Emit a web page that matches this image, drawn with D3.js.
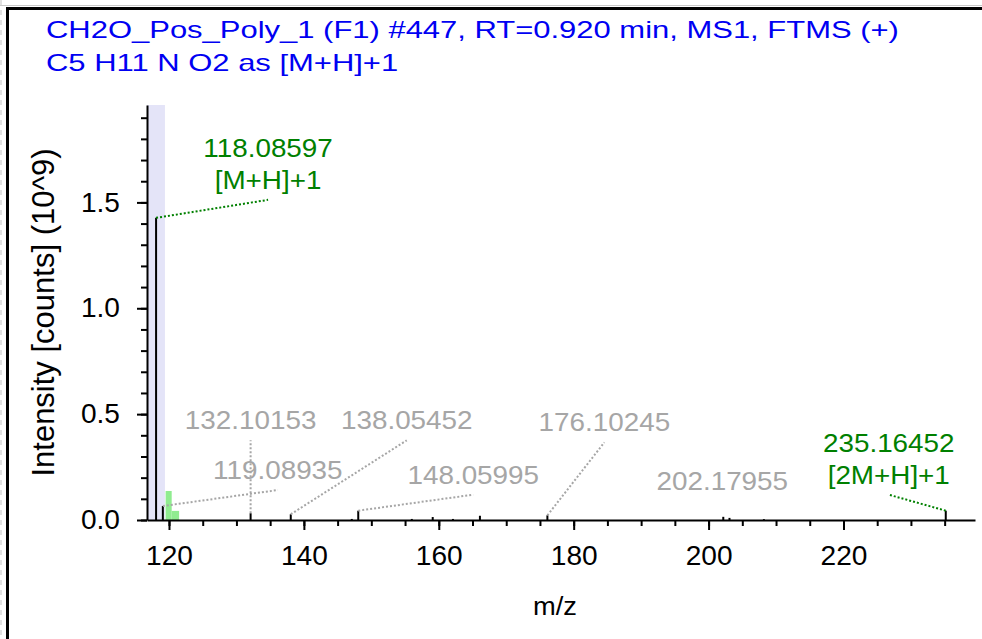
<!DOCTYPE html>
<html>
<head>
<meta charset="utf-8">
<script src="https://cdn.jsdelivr.net/npm/d3@7"></script>
<style>
  html, body { margin: 0; padding: 0; background: #fff; }
  svg { display: block; font-family: "Liberation Sans", Arial, sans-serif; }
</style>
</head>
<body>
<svg id="chart" width="982" height="639"></svg>
<script>
// Spectrum header
const titleLines = [
  "CH2O_Pos_Poly_1 (F1) #447, RT=0.920 min, MS1, FTMS (+)",
  "C5 H11 N O2 as [M+H]+1"
];

// Centroid peaks: m/z and intensity (10^9 counts)
const peakMz  = [118.08597, 119.08935, 132.10153, 138.05452, 147.10, 148.05995, 156.00, 159.10, 162.10, 166.10, 176.10245, 202.17955, 203.10, 208.20, 235.16452];
const peakInt = [1.427, 0.066, 0.032, 0.027, 0.005, 0.044, 0.005, 0.014, 0.005, 0.020, 0.022, 0.015, 0.010, 0.004, 0.044];

// Theoretical isotope pattern bars (m/z from, m/z to, intensity)
const isoFrom = [119.50, 120.40];
const isoTo   = [120.40, 121.50];
const isoInt  = [0.137, 0.043];

// Extraction window around the target ion
const windowMz = [116.74, 119.40];

// Annotated peaks
const annMz    = [118.08597, 119.08935, 132.10153, 138.05452, 148.05995, 176.10245, 202.17955, 235.16452];
const annText  = [
  ["118.08597", "[M+H]+1"],
  ["119.08935"],
  ["132.10153"],
  ["138.05452"],
  ["148.05995"],
  ["176.10245"],
  ["202.17955"],
  ["235.16452", "[2M+H]+1"]
];
const annMatched = [true, false, false, false, false, false, false, true];

// Axis ticks
const xMajor = [120, 140, 160, 180, 200, 220];
const xMinor = d3.range(120, 240, 5);
const yMajor = [0.0, 0.5, 1.0, 1.5];
const yMinor = d3.range(0, 20).map(i => i / 10);

// Label placement relative to each peak top (pixels): leader end offset, draw leader?
const annLayout = [
  { dx: 112, dy: -18, leader: true },
  { dx: 115, dy: -16, leader: true },
  { dx: 0,   dy: -73, leader: true },
  { dx: 116, dy: -74, leader: true },
  { dx: 115, dy: -16, leader: true },
  { dx: 57,  dy: -73, leader: true },
  { dx: -1,  dy: -16, leader: false },
  { dx: -57, dy: -16, leader: true }
];

const svg = d3.select("#chart");
const W = 982, H = 639;
const plot = { left: 147, right: 975, top: 105, bottom: 520 };

const x = d3.scaleLinear().domain([116.74, 239.5]).range([plot.left, plot.right]);
const y = d3.scaleLinear().domain([0, 1.96]).range([plot.bottom, plot.top]);

const BLUE = "#0000f2", GREEN = "#008000", GREY = "#a6a6a6";
const TITLE_FONT = 24, TICK_FONT = 27, LABEL_FONT = 26, YTITLE_FONT = 31;

// Widen glyphs horizontally by factor sx while keeping their height
function widen(sel, sx) {
  sel.each(function () {
    const len = this.getComputedTextLength();
    this.setAttribute("textLength", len * sx);
    this.setAttribute("lengthAdjust", "spacingAndGlyphs");
  });
}

// Window frame
svg.append("line").attr("x1", 0).attr("x2", W).attr("y1", 5.5).attr("y2", 5.5)
  .attr("stroke", "#c8c8c8").attr("stroke-width", 1);
svg.append("line").attr("x1", 6).attr("x2", W).attr("y1", 8.5).attr("y2", 8.5)
  .attr("stroke", "#000").attr("stroke-width", 3);
svg.append("line").attr("x1", 7.5).attr("x2", 7.5).attr("y1", 7).attr("y2", H)
  .attr("stroke", "#000").attr("stroke-width", 3);
svg.append("line").attr("x1", 1).attr("x2", 1).attr("y1", 0).attr("y2", H)
  .attr("stroke", "#e0e0e0").attr("stroke-width", 2).attr("stroke-dasharray", "5,5");

// Title
svg.append("g").selectAll("text").data(titleLines).join("text")
  .attr("x", 46).attr("y", (d, i) => 38 + i * 33)
  .attr("fill", BLUE).attr("font-size", TITLE_FONT).text(d => d)
  .call(widen, 1.29);

// Extraction window band
svg.append("rect")
  .attr("x", x(windowMz[0])).attr("width", x(windowMz[1]) - x(windowMz[0]))
  .attr("y", plot.top).attr("height", plot.bottom - plot.top)
  .attr("fill", "#e4e4f8");

// Isotope pattern
svg.append("g").selectAll("rect").data(isoInt).join("rect")
  .attr("x", (d, i) => x(isoFrom[i]))
  .attr("width", (d, i) => x(isoTo[i]) - x(isoFrom[i]))
  .attr("y", d => y(d))
  .attr("height", d => y(0) - y(d))
  .attr("fill", "#90ec90");

// Axes
const axisStyle = g => {
  g.selectAll("path.domain").attr("stroke", "#000").attr("stroke-width", 2);
  g.selectAll(".tick line").attr("stroke", "#000").attr("stroke-width", 2);
  g.selectAll(".tick text").attr("fill", "#000").attr("font-size", TICK_FONT)
    .attr("font-family", "Liberation Sans, Arial, sans-serif")
    .call(widen, 1.04);
};

svg.append("g").attr("transform", `translate(0,${plot.bottom})`)
  .call(d3.axisBottom(x).tickValues(xMinor).tickSize(6).tickFormat(""))
  .call(g => g.select("path.domain").remove())
  .call(axisStyle);
svg.append("g").attr("transform", `translate(0,${plot.bottom})`)
  .call(d3.axisBottom(x).tickValues(xMajor).tickSize(10).tickSizeOuter(0).tickPadding(16).tickFormat(d3.format("d")))
  .call(axisStyle);

svg.append("g").attr("transform", `translate(${plot.left},0)`)
  .call(d3.axisLeft(y).tickValues(yMinor).tickSize(6).tickFormat(""))
  .call(g => g.select("path.domain").remove())
  .call(axisStyle);
svg.append("g").attr("transform", `translate(${plot.left},0)`)
  .call(d3.axisLeft(y).tickValues(yMajor).tickSize(10).tickSizeOuter(0).tickPadding(17).tickFormat(d3.format(".1f")))
  .call(axisStyle);

// Axis titles
svg.append("text").attr("x", (plot.left + plot.right) / 2 - 6).attr("y", 615)
  .attr("text-anchor", "middle").attr("font-size", 26).text("m/z")
  .call(widen, 1.05);
svg.append("text")
  .attr("transform", `translate(54,${(plot.top + plot.bottom) / 2}) rotate(-90)`)
  .attr("text-anchor", "middle").attr("font-size", YTITLE_FONT)
  .text("Intensity [counts] (10^9)");

// Peaks
svg.append("g").selectAll("line").data(peakMz).join("line")
  .attr("x1", d => x(d)).attr("x2", d => x(d))
  .attr("y1", y(0)).attr("y2", (d, i) => y(peakInt[i]))
  .attr("stroke", "#000").attr("stroke-width", 2);

// Annotations
const ann = svg.append("g");
annMz.forEach((mz, i) => {
  const k = peakMz.indexOf(mz);
  const px = x(mz), py = y(peakInt[k]);
  const L = annLayout[i];
  const ex = px + L.dx, ey = py + L.dy;
  const col = annMatched[i] ? GREEN : GREY;
  if (L.leader) {
    ann.append("line")
      .attr("x1", px).attr("y1", py).attr("x2", ex).attr("y2", ey)
      .attr("stroke", col).attr("stroke-width", 2).attr("stroke-dasharray", "2,2");
  }
  const lines = annText[i];
  lines.forEach((t, j) => {
    ann.append("text")
      .attr("x", ex).attr("y", ey - 11 - (lines.length - 1 - j) * 32)
      .attr("text-anchor", "middle").attr("font-size", LABEL_FONT)
      .attr("fill", col).text(t)
      .call(widen, 1.07);
  });
});
</script>
</body>
</html>
